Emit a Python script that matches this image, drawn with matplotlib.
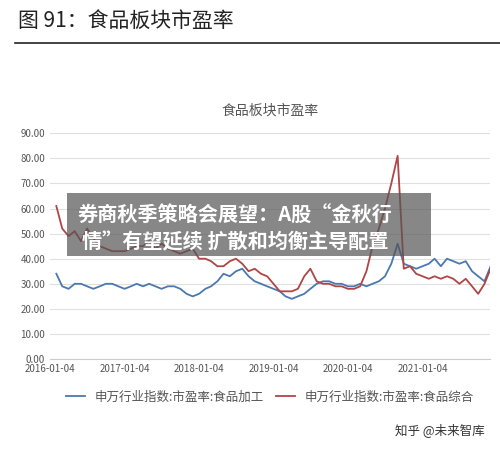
import numpy as np
import pandas as pd
import matplotlib.pyplot as plt
import matplotlib.dates as mdates
from matplotlib.patches import Rectangle

plt.rcParams['font.family'] = ['Noto Sans CJK SC', 'DejaVu Sans']

# 月度估计值
months = pd.date_range('2016-01-04', periods=71, freq='MS') + pd.Timedelta(days=3)
food_proc = [34, 29, 28, 30, 30, 29, 28, 29, 30, 30, 29, 28,
             29, 30, 29, 30, 29, 28, 29, 29, 28, 26, 25, 26,
             28, 29, 31, 34, 33, 35, 36, 33, 31, 30, 29, 28,
             27, 25, 24, 25, 26, 28, 30, 31, 31, 30, 30, 29,
             29, 30, 29, 30, 31, 33, 38, 46, 38, 37, 36, 37,
             38, 40, 37, 40, 39, 38, 39, 35, 33, 31, 37]
food_comp = [61, 52, 49, 51, 47, 52, 48, 45, 44, 43, 43, 43,
             44, 45, 45, 47, 44, 46, 44, 43, 42, 43, 44, 40,
             40, 39, 37, 37, 39, 40, 38, 35, 36, 34, 33, 30,
             27, 27, 27, 28, 33, 36, 31, 30, 30, 29, 29, 28,
             28, 29, 35, 45, 52, 60, 70, 81, 36, 37, 34, 33,
             32, 33, 32, 33, 32, 30, 32, 29, 26, 30, 36]
yticks = np.arange(0, 91, 10)

fig = plt.figure(figsize=(5, 4.5), dpi=100)
fig.text(0.035, 0.94, '图 91：食品板块市盈率', fontsize=15, color='#222222')
fig.add_artist(plt.Line2D([0.03, 1.0], [0.905, 0.905], color='#222222', lw=1.2))
fig.text(0.54, 0.745, '食品板块市盈率', fontsize=10, color='#555555', ha='center')

ax = fig.add_axes([0.10, 0.202, 0.88, 0.502])
ax.plot(months, food_proc, color='#4a78b0', lw=1.3, label='申万行业指数:市盈率:食品加工')
ax.plot(months, food_comp, color='#b04545', lw=1.3, label='申万行业指数:市盈率:食品综合')
ax.set_ylim(0, 90)
ax.set_yticks(yticks)
ax.set_yticklabels(['%.2f' % v for v in yticks], fontsize=7, color='#555555')
ax.set_xlim(pd.Timestamp('2016-01-04'), pd.Timestamp('2021-12-01'))
ax.set_xticks(pd.to_datetime(['%d-01-04' % y for y in range(2016, 2022)]))
ax.xaxis.set_major_formatter(mdates.DateFormatter('%Y-%m-%d'))
ax.tick_params(axis='x', labelsize=7, colors='#555555', length=0)
ax.tick_params(axis='y', length=0)
ax.grid(axis='y', color='#e0e0e0', lw=0.8)
for s in ['top', 'right', 'left']:
    ax.spines[s].set_visible(False)
ax.spines['bottom'].set_color('#cccccc')
ax.legend(loc='upper center', bbox_to_anchor=(0.5, -0.09), ncol=2, frameon=False,
          fontsize=9, handlelength=1.5, columnspacing=1.0, labelcolor='#555555')

fig.add_artist(Rectangle((0.134, 0.431), 0.728, 0.14, transform=fig.transFigure,
                         facecolor='#555555', alpha=0.7, edgecolor='none'))
fig.text(0.155, 0.508, '券商秋季策略会展望：A股“金秋行', fontsize=14.5, color='white', weight='bold')
fig.text(0.165, 0.448, '情”有望延续 扩散和均衡主导配置', fontsize=14.5, color='white', weight='bold')
fig.text(0.97, 0.035, '知乎 @未来智库', fontsize=9, color='#333333', ha='right')

fig.savefig('out.png')
